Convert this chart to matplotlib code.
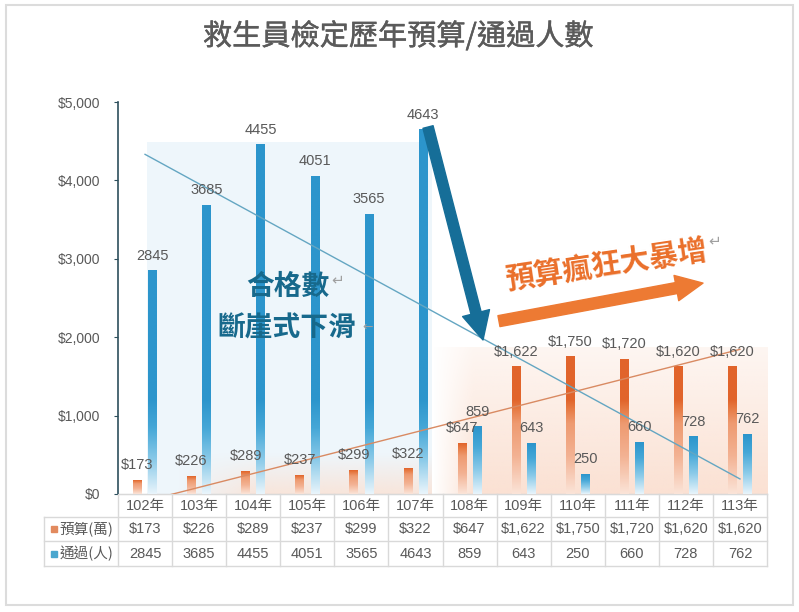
import numpy as np
import matplotlib
matplotlib.use("Agg")
import matplotlib.pyplot as plt
import matplotlib.transforms as mtransforms
import matplotlib.patheffects as pe
from matplotlib.colors import LinearSegmentedColormap, to_rgb
from matplotlib.patches import Rectangle

plt.rcParams['font.family'] = ['Liberation Sans', 'Noto Sans CJK TC', 'DejaVu Sans']

""" data read off the picture """
years = ['102年', '103年', '104年', '105年', '106年', '107年',
         '108年', '109年', '110年', '111年', '112年', '113年']
budget = [173, 226, 289, 237, 299, 322, 647, 1622, 1750, 1720, 1620, 1620]   # 預算(萬)
passed = [2845, 3685, 4455, 4051, 3565, 4643, 859, 643, 250, 660, 728, 762]  # 通過(人)
row_names = ['預算(萬)', '通過(人)']
yticks = [0, 1000, 2000, 3000, 4000, 5000]

TEXT = '#595959'
GRID = '#d9d9d9'
YMAX = 5000
FADE = 1200   # bars fade out over (at most) this much of their bottom part

# colour ramps: 0 = bottom of the fade, 1 = solid part of the bar
blue_cmap = LinearSegmentedColormap.from_list('b', [
  (0.0, '#e8f4fb'), (0.35, '#8ccbe9'), (0.7, '#45a7d7'), (1.0, '#2c95cc')])
orange_cmap = LinearSegmentedColormap.from_list('o', [
  (0.0, '#fbe4d8'), (0.4, '#f3b293'), (0.75, '#ee9a70'), (0.92, '#e6773f'), (1.0, '#e1642b')])

fig = plt.figure(figsize=(7.99, 6.12), dpi=100)
ax = fig.add_axes([118/799, (612-494)/612, 649/799, 392/612])

x = np.arange(len(years))
bars_b = ax.bar(x - 0.14, budget, width=0.16, color='none', zorder=3)
bars_p = ax.bar(x + 0.14, passed, width=0.16, color='none', zorder=3)

def grad_fill(patch, cmap):
  x0, y0 = patch.get_x(), patch.get_y()
  w, h = patch.get_width(), patch.get_height()
  vals = np.linspace(y0, y0 + h, 200)
  t = np.clip((vals - y0) / min(h, FADE), 0, 1).reshape(-1, 1)
  ax.imshow(t, cmap=cmap, vmin=0, vmax=1, origin='lower', aspect='auto',
            extent=(x0, x0 + w, y0, y0 + h), interpolation='bilinear', zorder=3)

for p in bars_b: grad_fill(p, orange_cmap)
for p in bars_p: grad_fill(p, blue_cmap)

""" background shading behind the two periods """
ax.add_patch(Rectangle((0.04, 0), 5.26, 4490, facecolor='#eef6fb', edgecolor='none', zorder=0))

def soft_block(extent, color, top_alpha, bottom_alpha, fade_left):
  ny, nx = 120, 120
  rgba = np.zeros((ny, nx, 4))
  rgba[..., :3] = to_rgb(color)
  a = np.linspace(bottom_alpha, top_alpha, ny).reshape(-1, 1) * np.ones((1, nx))
  if fade_left:
    a = a * np.clip(np.linspace(0, 1, nx) / fade_left, 0, 1).reshape(1, -1)
  rgba[..., 3] = a
  ax.imshow(rgba, origin='lower', aspect='auto', extent=extent, interpolation='bilinear', zorder=0)

soft_block((5.3, 11.55, 0, 1875), '#fbe1d3', 0.3, 1.0, 0.12)
soft_block((0.6, 5.3, 0, 520), '#fbe1d3', 0.0, 0.8, 0.3)

""" linear trendlines """
cb = np.polyfit(x, budget, 1)
cp = np.polyfit(x, passed, 1)
ax.plot(x, np.polyval(cb, x), color='#d98a62', lw=1, zorder=4)
ax.plot(x, np.polyval(cp, x), color='#64a6c2', lw=1, zorder=4)

""" data labels """
for p, v in zip(bars_b, budget):
  ax.annotate('${:,}'.format(v), (p.get_x() + p.get_width()/2, v), xytext=(0, 8),
              textcoords='offset points', ha='center', va='baseline', fontsize=10.5, color=TEXT, zorder=5)
for p, v in zip(bars_p, passed):
  ax.annotate('{}'.format(v), (p.get_x() + p.get_width()/2, v), xytext=(0, 8),
              textcoords='offset points', ha='center', va='baseline', fontsize=10.5, color=TEXT, zorder=5)

ax.set_xlim(-0.5, len(years) - 0.5)
ax.set_ylim(0, YMAX)
ax.set_yticks(yticks)
ax.set_yticklabels(['${:,}'.format(t) for t in yticks])
ax.set_xticks([])
ax.tick_params(axis='y', length=3, color='#2d4f5c', labelsize=10, labelcolor=TEXT, pad=10)
for s in ['top', 'right']:
  ax.spines[s].set_visible(False)
ax.spines['left'].set_color('#2d4f5c')
ax.spines['left'].set_linewidth(1.2)
ax.spines['bottom'].set_color(GRID)
ax.set_facecolor('none')

""" data table under the axis """
trans = mtransforms.blended_transform_factory(ax.transData, ax.transAxes)
rows_y = [0, -0.0587, -0.1199, -0.1837]
left = -1.87
right = len(years) - 0.5
for i, yy in enumerate(rows_y):
  ax.plot([left if i > 0 else -0.5, right], [yy, yy], color=GRID, lw=1, transform=trans, clip_on=False)
for i in range(len(years) + 1):
  ax.plot([i - 0.5, i - 0.5], [rows_y[0], rows_y[-1]], color=GRID, lw=1, transform=trans, clip_on=False)
ax.plot([left, left], [rows_y[1], rows_y[-1]], color=GRID, lw=1, transform=trans, clip_on=False)

centers = [(rows_y[k] + rows_y[k+1]) / 2 for k in range(3)]
for i, yr in enumerate(years):
  ax.text(i, centers[0], yr, transform=trans, ha='center', va='center', fontsize=10.5, color=TEXT)
  ax.text(i, centers[1], '${:,}'.format(budget[i]), transform=trans, ha='center', va='center', fontsize=10.5, color=TEXT)
  ax.text(i, centers[2], '{}'.format(passed[i]), transform=trans, ha='center', va='center', fontsize=10.5, color=TEXT)

for k, (name, col) in enumerate(zip(row_names, ['#e28a5e', '#4aa7cf'])):
  ax.plot([-1.68], [centers[k+1]], marker='s', ms=4.5, color=col, transform=trans, clip_on=False)
  ax.text(-1.58, centers[k+1], name, transform=trans, ha='left', va='center', fontsize=10.5, color=TEXT,
          family=['Noto Sans CJK TC', 'DejaVu Sans'])

""" callouts """
cjk = ['Noto Sans CJK TC', 'DejaVu Sans']
ax.text(0.262, 0.528, '合格數', transform=ax.transAxes, ha='center', va='center',
        fontsize=20, fontweight='bold', color='#17698c', family=cjk, zorder=6)
ax.text(0.338, 0.545, '↵', transform=ax.transAxes, ha='center', va='center', fontsize=11, color='#a0a0a0', family=['DejaVu Sans'])
ax.text(0.260, 0.423, '斷崖式下滑', transform=ax.transAxes, ha='center', va='center',
        fontsize=20, fontweight='bold', color='#17698c', family=cjk, zorder=6)
ax.text(0.384, 0.425, '←', transform=ax.transAxes, ha='center', va='center', fontsize=9, color='#a0a0a0', family=['DejaVu Sans'])

ax.text(0.752, 0.584, '預算瘋狂大暴增', transform=ax.transAxes, ha='center', va='center', rotation=8.5,
        rotation_mode='anchor', fontsize=21, fontweight='bold', color='#ea6f2a', family=cjk, zorder=6)
ax.text(0.920, 0.645, '↵', transform=ax.transAxes, ha='center', va='center', fontsize=11, color='#a0a0a0', family=['DejaVu Sans'])

ax.annotate('', xy=(0.5624, 0.3929), xytext=(0.4777, 0.9362), xycoords='axes fraction',
            arrowprops=dict(arrowstyle='simple,head_length=2.0,head_width=2.0,tail_width=0.75',
                            mutation_scale=10, color='#166e98', shrinkA=0, shrinkB=0), zorder=6)
ax.annotate('', xy=(0.9014, 0.538), xytext=(0.587, 0.441), xycoords='axes fraction',
            arrowprops=dict(arrowstyle='simple,head_length=1.95,head_width=1.85,tail_width=0.8',
                            mutation_scale=10, color='#ed7a33', shrinkA=0, shrinkB=0), zorder=6)

# title: regular weight, thickened a little with a thin stroke
fig.text(398/799, 1 - 37/612, '救生員檢定歷年預算/通過人數', ha='center', va='center', fontsize=21,
         color='#5a5a5a', family=cjk,
         path_effects=[pe.withStroke(linewidth=0.3, foreground='#5a5a5a')])

# outer frame
fig.patches.append(Rectangle((6/799, 7/612), 787/799, 600/612, transform=fig.transFigure,
                             fill=False, edgecolor='#dcdcdc', lw=1.5))

fig.savefig('out.png', dpi=100)
plt.close()
